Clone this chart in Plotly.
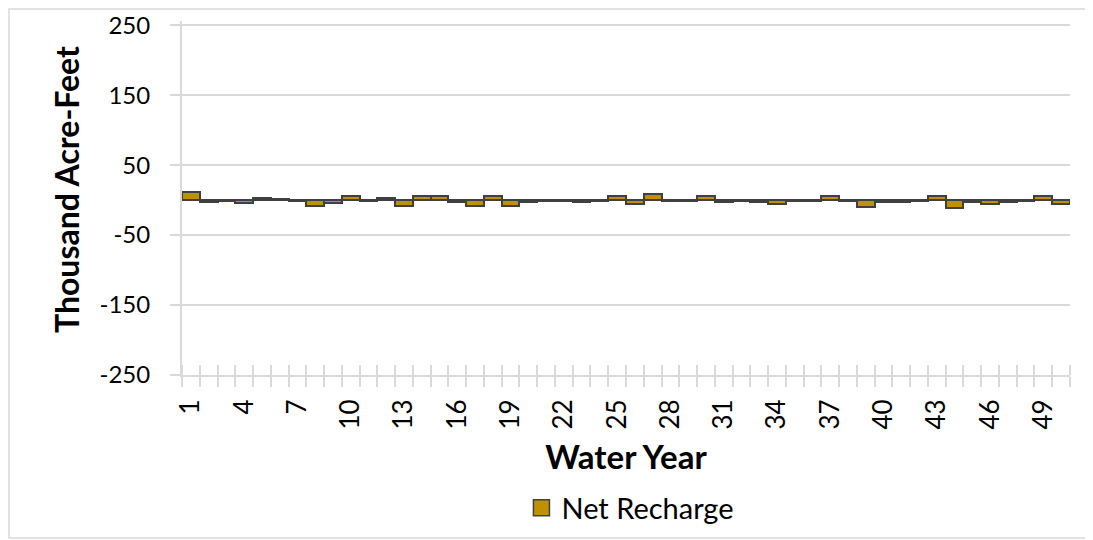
import plotly.graph_objects as go

years = list(range(1, 51))
net_recharge = [12, -3, -1, -4, 3, 1, -1, -8, -4, 6,
                -1, 3, -8, 6, 6, -2, -8, 6, -8, -3,
                -1, -1, -3, -1, 6, -6, 9, -1, -1, 6,
                -2, -1, -3, -5, -1, -1, 6, -1, -10, -2,
                -2, -1, 6, -12, -3, -5, -2, -1, 6, -6]
x_labels = list(range(1, 51, 3))
y_ticks = [-250, -150, -50, 50, 150, 250]

FONT = "Lato"
GRID = "#d9d9d9"
BAR = "#BF9000"
EDGE = "#404040"

# the page adds an 8px body margin, so the figure is laid out in page coordinates
W, H = 1085, 532
L, T, R, B = 174, 13, 23, 165
PW, PH = W - L - R, H - T - B
X_RANGE = [0.5, 50.5]
Y_RANGE = [-250, 256]

fig = go.Figure()
fig.add_trace(go.Bar(
    x=years, y=net_recharge, name="Net Recharge", showlegend=False,
    marker=dict(color=BAR, line=dict(color=EDGE, width=2)),
    xaxis="x", yaxis="y",
))
# legend entry with a larger square swatch
fig.add_trace(go.Scatter(
    x=[None], y=[None], name="Net Recharge", mode="markers",
    marker=dict(symbol="square", size=18, color=BAR, line=dict(color=EDGE, width=1.5)),
    xaxis="x", yaxis="y",
))
# top grid line at the highest tick, spanning the axis range
fig.add_trace(go.Scatter(
    x=X_RANGE, y=[y_ticks[-1], y_ticks[-1]], mode="lines",
    line=dict(color=GRID, width=1.5), showlegend=False, hoverinfo="skip",
    xaxis="x2", yaxis="y",
))

fig.update_layout(
    width=W, height=H,
    paper_bgcolor="white", plot_bgcolor="white",
    margin=dict(l=L, r=R, t=T, b=B, pad=0, autoexpand=False),
    bargap=0,
    font=dict(family=FONT, color="black"),
    showlegend=True,
    legend=dict(orientation="h", x=0.505, xanchor="center", y=(375 - 508) / PH, yanchor="middle",
                font=dict(size=29, family=FONT), itemsizing="trace"),
    xaxis=dict(
        range=X_RANGE, tickmode="array", tickvals=x_labels,
        ticktext=[str(v) for v in x_labels], tickangle=-90,
        tickfont=dict(size=26, family=FONT), ticks="", ticklabelstandoff=12,
        ticklabeloverflow="allow", automargin=False,
        showgrid=False, zeroline=False,
        showline=True, linecolor=GRID, linewidth=2,
        minor=dict(tickmode="linear", tick0=0.5, dtick=1, ticks="outside",
                   ticklen=10, tickcolor=GRID, tickwidth=2, showgrid=False),
        title=dict(text="<b>Water Year</b>", font=dict(size=33, family=FONT), standoff=17),
    ),
    xaxis2=dict(
        range=X_RANGE, overlaying="x", anchor="y", side="bottom",
        showticklabels=False, ticks="", showgrid=False, zeroline=False, automargin=False,
        minor=dict(tickmode="linear", tick0=0.5, dtick=1, ticks="inside",
                   ticklen=10, tickcolor=GRID, tickwidth=2, showgrid=False),
    ),
    yaxis=dict(
        range=Y_RANGE, tickmode="array", tickvals=y_ticks,
        ticktext=[str(v) for v in y_ticks],
        tickfont=dict(size=24, family=FONT), ticklabelstandoff=15,
        ticklabeloverflow="allow", automargin=False,
        showgrid=True, gridcolor=GRID, gridwidth=1.5, zeroline=False,
        showline=True, linecolor=GRID, linewidth=2,
        ticks="outside", ticklen=10, tickcolor=GRID, tickwidth=2,
    ),
    annotations=[dict(text="<b>Thousand Acre-Feet</b>", textangle=-90,
                      xref="paper", yref="paper", x=(66 - 182) / PW, y=(375 - 190) / PH,
                      xanchor="center", yanchor="middle", showarrow=False,
                      font=dict(size=32, family=FONT, color="black"))],
    shapes=[
        dict(type="rect", xref="paper", yref="paper",
             x0=(1 - L) / PW, x1=(W - 2 - L) / PW,
             y0=-(B - 2) / PH, y1=(PH + T - 1) / PH,
             line=dict(color=GRID, width=1.5), layer="below"),
    ],
)

fig.write_html("out.html")
